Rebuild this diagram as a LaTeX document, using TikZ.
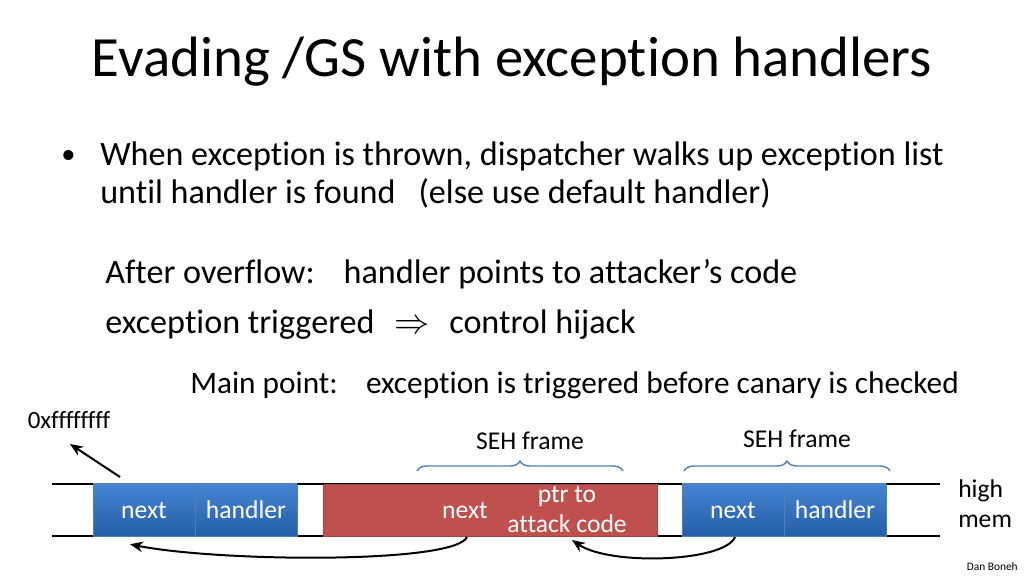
\documentclass[tikz,border=0pt]{standalone}
\usepackage{fontspec}
\setmainfont{Carlito}[Ligatures=NoCommon]
\usetikzlibrary{arrows.meta,positioning,decorations.pathreplacing}

\definecolor{cellblue}{RGB}{70,132,210}
\definecolor{cellbluedark}{RGB}{36,94,168}
\definecolor{cellred}{RGB}{192,80,77}
\definecolor{bracecol}{RGB}{79,129,189}

\begin{document}
\begin{tikzpicture}[
  x=0.703pt,y=-0.703pt,
  txt/.style={anchor=base west,inner sep=0pt,font=\fontsize{24}{28}\selectfont},
  cell/.style={minimum width=71.7pt,minimum height=36.6pt,inner sep=0pt,
    text=white,font=\fontsize{18}{20}\selectfont},
  bluecell/.style={cell,top color=cellblue,bottom color=cellbluedark,
    draw=cellbluedark!80!white,line width=0.4pt},
  memline/.style={line width=2pt},
  hop/.style={-{Stealth[length=3.2mm,width=2.6mm]},line width=1.4pt},
  frame/.style={decorate,decoration={brace,amplitude=7pt},draw=bracecol,line width=1pt}
]
\useasboundingbox[fill=white] (0,0) rectangle (1024,576);

% title and text
\node[anchor=base,inner sep=0pt,font=\fontsize{40}{44}\selectfont] (title) at (512,76)
  {Evading /GS with exception handlers};
\node[txt,font=\fontsize{20}{24}\selectfont] (dot) at (61,163) {•};
\node[txt] (line1) at (100,165) {When exception is thrown, dispatcher walks up exception list};
\node[txt] (line2) at (100,203) {until handler is found\hspace{0.45em} (else use default handler)};
\node[txt] (after) at (105,283) {After overflow:\hspace{0.55em} handler points to attacker’s code};
\node[txt] (trig) at (105,333) {exception triggered\hspace{0.35em} $\Rightarrow$\hspace{0.35em} control hijack};
\node[txt,font=\fontsize{22}{26}\selectfont] (main) at (190,393)
  {Main point:\hspace{0.6em} exception is triggered before canary is checked};

% memory
\draw[memline] (52,484) -- (940,484);
\draw[memline] (52,536) -- (940,536);

\node[bluecell] (nextA) at (144,510) {next};
\node[bluecell] (handA) at (246,510) {handler};
\node[cell,fill=cellred,draw=cellred!85!black,minimum width=234.8pt] (redbox) at (490,510) {};
\node[anchor=base,inner sep=0pt,text=white,font=\fontsize{18}{20}\selectfont] (nextR) at (465,518) {next};
\node[anchor=base,inner sep=0pt,text=white,align=center,font=\fontsize{18}{20.5}\selectfont] (ptr) at (567,532)
  {ptr to\\attack code};
\node[bluecell] (nextB) at (733,510) {next};
\node[bluecell] (handB) at (835,510) {handler};

\node[anchor=base west,inner sep=0pt,align=left,font=\fontsize{18}{21}\selectfont] (high) at (958,527)
  {high\\mem};

% frames
\draw[frame] (417,471) -- (623,471);
\draw[frame] (684,471) -- (890,471);
\node[anchor=base,inner sep=0pt,font=\fontsize{18}{20}\selectfont] (sehA) at (530,449) {SEH frame};
\node[anchor=base,inner sep=0pt,font=\fontsize{18}{20}\selectfont] (sehB) at (797,447) {SEH frame};

% top of memory
\node[anchor=base,inner sep=0pt,font=\fontsize{17.5}{19}\selectfont] (addr) at (69,428) {0xffffffff};
\coordinate (topEnd) at (120,477);
\draw[hop] (topEnd) -- (70,444);

% exception list
\coordinate (fromR) at (467,537);
\coordinate (fromB) at (735,537);
\draw[hop] (fromR) .. controls (455,564) and (220,562) .. ([shift={(-14,8)}]nextA.south);
\draw[hop] (fromB) .. controls (725,562) and (610,566) .. (572,540);

\node[anchor=base east,inner sep=0pt,font=\fontsize{8}{9}\selectfont] (name) at (1018,570) {Dan Boneh};
\end{tikzpicture}
\end{document}
